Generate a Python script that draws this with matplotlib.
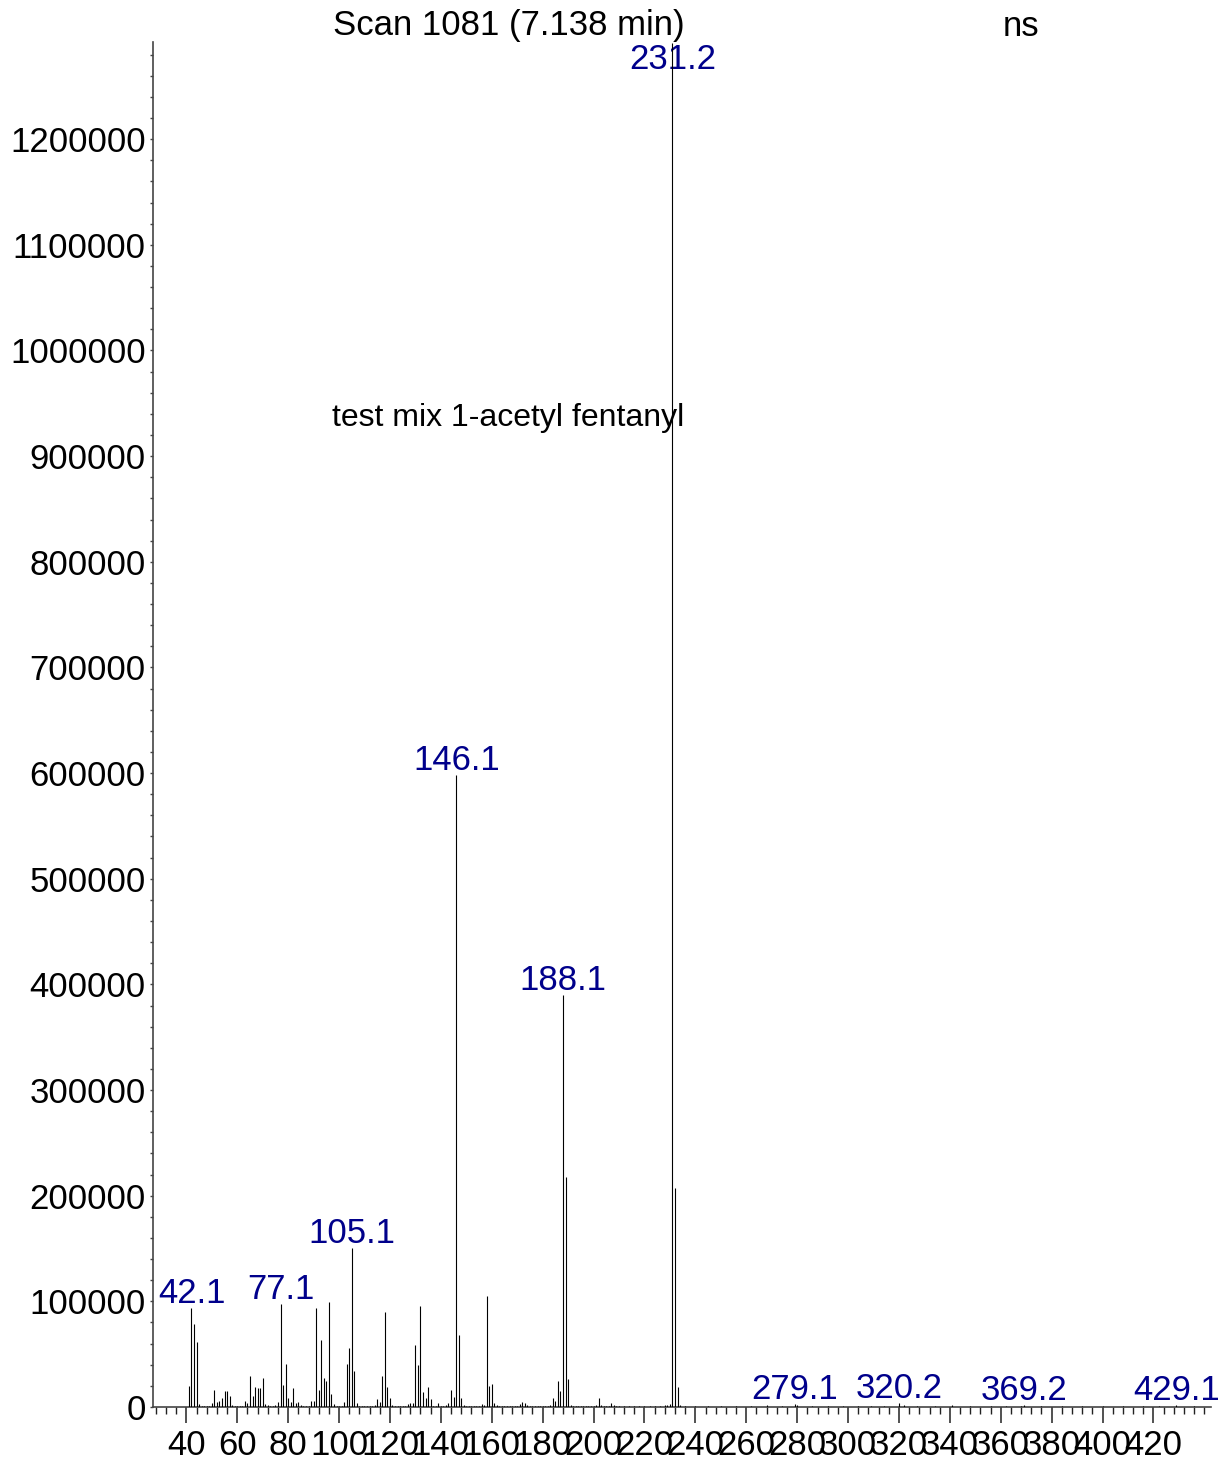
import matplotlib
matplotlib.use('Agg')
import matplotlib.pyplot as plt
from matplotlib.ticker import MultipleLocator, FixedLocator

plt.rcParams['font.family'] = ['Liberation Sans', 'DejaVu Sans']

# mass spectrum, scan 1081
mz = [41, 42, 43, 44, 45, 46, 47, 48, 49, 50, 51, 52, 53, 54, 55, 56, 57, 58, 59, 60, 61, 62,
      63, 64, 65, 66, 67, 68, 69, 70, 71, 72, 73, 74, 75, 76, 77, 78, 79, 80, 81, 82, 83, 84,
      85, 86, 87, 88, 89, 90, 91, 92, 93, 94, 95, 96, 97, 98, 99, 100, 101, 102, 103, 104, 105,
      106, 107, 108, 109, 110, 111, 112, 113, 114, 115, 116, 117, 118, 119, 120, 121, 122, 123,
      124, 125, 126, 127, 128, 129, 130, 131, 132, 133, 134, 135, 136, 137, 138, 139, 140, 141,
      142, 143, 144, 145, 146, 147, 148, 149, 150, 151, 152, 153, 154, 155, 156, 157, 158, 159,
      160, 161, 162, 163, 164, 165, 166, 167, 168, 169, 170, 171, 172, 173, 174, 175, 176, 177,
      178, 179, 180, 181, 182, 183, 184, 185, 186, 187, 188, 189, 190, 191, 192, 193, 194, 195,
      196, 197, 198, 199, 200, 201, 202, 203, 204, 205, 206, 207, 208, 209, 210, 212, 214, 216,
      218, 220, 222, 224, 226, 228, 229, 230, 231, 232, 233, 234, 236, 240, 245, 250, 256, 262,
      268, 274, 279, 280, 286, 292, 298, 304, 309, 314, 320, 322, 327, 334, 341, 348, 356, 362,
      368, 369, 376, 384, 392, 400, 408, 416, 422, 429, 436]
intensity = [20200, 94000, 78200, 61800, 2800, 900, 700, 800, 1000, 3500, 15800, 5000, 5700, 8200,
             14800, 15100, 10400, 1900, 900, 800, 1000, 1200, 5700, 3800, 29300, 10400, 18600,
             18000, 17700, 27800, 2800, 1500, 1300, 1200, 1500, 4400, 97800, 20800, 40400, 8500,
             4400, 18000, 4100, 4700, 1500, 1400, 1200, 1300, 6000, 5400, 93400, 15800, 63400,
             27800, 24600, 99700, 12600, 2800, 1100, 1000, 1200, 4400, 40400, 55500, 150300, 33800,
             3500, 1400, 1200, 1100, 1000, 1200, 1300, 1500, 7300, 4400, 29600, 89900, 19300, 8500,
             2200, 1200, 1100, 1300, 1200, 1400, 2500, 3800, 3800, 58400, 39700, 95900, 13900, 8500,
             18600, 7300, 1300, 1200, 3800, 1100, 1200, 2200, 3500, 15800, 9800, 598100, 68400,
             8500, 1900, 1200, 1100, 1000, 1300, 1200, 1100, 2800, 2200, 104700, 20200, 21400, 4100,
             1900, 1200, 1000, 1100, 1200, 1000, 1100, 1300, 1200, 3200, 4700, 3500, 1900, 1200,
             1100, 1000, 1200, 1100, 1000, 1300, 1200, 1500, 8500, 5700, 24600, 15500, 389900,
             217700, 26500, 2200, 1200, 1100, 1000, 1200, 1100, 1000, 1100, 1200, 1300, 1500, 8800,
             1900, 1200, 1100, 1300, 4100, 2200, 1200, 1100, 1200, 1000, 1100, 1200, 1000, 1100,
             1200, 1300, 1500, 1900, 2800, 1291000, 207600, 19300, 1900, 1200, 1100, 1000, 1100,
             1000, 1200, 1900, 1200, 2800, 1900, 1000, 1100, 1200, 1000, 1300, 1100, 3500, 1500,
             1400, 1000, 1500, 1100, 1300, 1000, 1400, 1600, 1000, 1100, 1000, 1200, 1000, 1100,
             1000, 1500, 1000]

# annotated masses
label_mz = [42.1, 77.1, 105.1, 146.1, 188.1, 231.2, 279.1, 320.2, 369.2, 429.1]

title = 'Scan 1081 (7.138 min)'
sample_name = 'test mix 1-acetyl fentanyl'

W, H = 1228, 1460
fig = plt.figure(figsize=(W / 100, H / 100), dpi=100)
ax = fig.add_axes([153 / W, 53 / H, (1211 - 153) / W, (1407 - 42) / H])

ymax = 1292000
label_cap = 1262000
fs = 25
ax.vlines(mz, 0, intensity, colors='black', linewidth=0.8, zorder=3)

peak_of = dict(zip(mz, intensity))
for m in label_mz:
    y = min(peak_of.get(round(m), 0), label_cap)
    ax.annotate(f'{m:.1f}', xy=(m, y), xytext=(0, 3.6), textcoords='offset points',
                ha='center', va='baseline', color='#00008b', fontsize=fs,
                annotation_clip=False, zorder=2)

ax.set_xlim(26.9, 442.6)
ax.set_ylim(0, ymax)

for side in ('top', 'right'):
    ax.spines[side].set_visible(False)
for side in ('left', 'bottom'):
    ax.spines[side].set_color('#444444')
    ax.spines[side].set_linewidth(1.2)

ax.xaxis.set_major_locator(FixedLocator(range(40, 421, 20)))
ax.xaxis.set_minor_locator(FixedLocator(range(28, 441, 4)))
ax.yaxis.set_major_locator(MultipleLocator(100000))
ax.yaxis.set_minor_locator(MultipleLocator(20000))
ax.yaxis.set_major_formatter(matplotlib.ticker.FuncFormatter(lambda v, p: f'{int(v)}'))

ax.tick_params(axis='x', which='major', direction='out', length=11.5, width=1.1,
               color='#222222', pad=4.5, labelsize=fs)
ax.tick_params(axis='x', which='minor', direction='out', length=5, width=1.0, color='#222222')
ax.tick_params(axis='y', which='major', direction='out', length=2.2, width=1.0,
               color='#444444', pad=3, labelsize=fs)
ax.tick_params(axis='y', which='minor', direction='out', length=2.2, width=1.0, color='#444444')

fig.text(509 / W, 1 - 26 / H, title, ha='center', va='center', fontsize=fs)
fig.text(1003 / W, 1 - 26 / H, 'ns', ha='left', va='center', fontsize=fs)
fig.text(332 / W, 1 - 418 / H, sample_name, ha='left', va='center', fontsize=23)

fig.savefig('out.png', dpi=100)
